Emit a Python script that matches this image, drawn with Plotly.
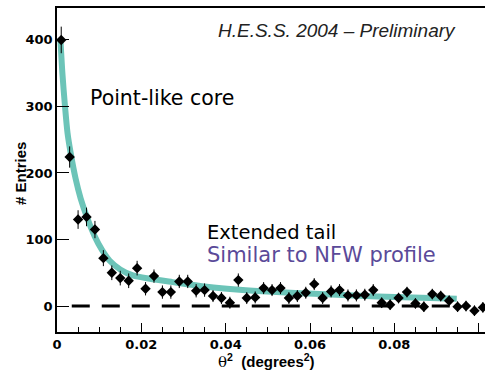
import plotly.graph_objects as go

# binned data: theta^2 bin centres and entries
theta2 = [0.001 + 0.002 * k for k in range(51)]
entries = [400, 224, 130, 134, 115, 72, 50, 42, 38, 57,
           26, 45, 21, 21, 37, 37, 23, 24, 15, 12,
           5, 39, 12, 13, 27, 24, 27, 12, 15, 20,
           33, 12, 22, 24, 16, 16, 17, 24, 5, 2,
           12, 21, 4, -1, 18, 15, 8, -1, 0, -7,
           -2]
errors = [20, 16, 14, 14, 13, 12, 11, 11, 11, 11,
          10, 10, 10, 10, 10, 10, 10, 10, 9, 9,
          9, 10, 9, 9, 9, 9, 9, 9, 9, 9,
          9, 9, 9, 9, 9, 9, 9, 9, 8, 8,
          8, 8, 8, 8, 8, 8, 8, 8, 8, 8,
          8]

# fitted profile
fit_x = [0.0008, 0.0013, 0.0019, 0.0025, 0.0033, 0.0044, 0.0056, 0.0072,
         0.009, 0.0107, 0.0125, 0.015, 0.018, 0.022, 0.0274, 0.0355,
         0.0433, 0.051, 0.061, 0.076, 0.0948]
fit_y = [402, 348, 300, 260, 228, 192, 162, 132,
         104, 84, 68, 55, 46, 41, 36, 29,
         24.5, 21.5, 18.5, 14.5, 11]

zero_x = [0.0035, 0.0945]
zero_y = [0, 0]

x_ticks = [0, 0.02, 0.04, 0.06, 0.08, 0.1]
x_labels = ["0", "0.02", "0.04", "0.06", "0.08", "0.1"]
y_ticks = [0, 100, 200, 300, 400]
y_labels = ["0", "100", "200", "300", "400"]

fig = go.Figure()
fig.add_trace(go.Scatter(x=zero_x, y=zero_y, mode="lines",
                         line=dict(color="black", width=3, dash="18px,12px"),
                         hoverinfo="skip", showlegend=False))
fig.add_trace(go.Scatter(x=fit_x, y=fit_y, mode="lines",
                         line=dict(color="rgb(108,196,184)", width=6, shape="spline",
                                   smoothing=0.8),
                         showlegend=False))
fig.add_trace(go.Scatter(x=theta2, y=entries, mode="markers",
                         marker=dict(symbol="diamond", size=8, color="black"),
                         error_y=dict(type="data", array=errors, color="black",
                                      thickness=1, width=0),
                         showlegend=False))

tickfont = dict(family="DejaVu Sans", size=13, color="black", weight="bold")
fig.update_layout(
    width=485, height=371,
    margin=dict(l=57, r=0, t=8, b=39),
    paper_bgcolor="white", plot_bgcolor="white",
    xaxis=dict(range=[0, 0.1015], showgrid=False, zeroline=False,
               showline=True, linecolor="black", linewidth=1.5, mirror=True,
               ticks="inside", ticklen=9, tickcolor="black",
               tickvals=x_ticks, ticktext=["<b>%s</b>" % t for t in x_labels],
               tickfont=tickfont,
               minor=dict(dtick=0.005, ticklen=5, ticks="inside", tickcolor="black")),
    yaxis=dict(range=[-39, 448], showgrid=False, zeroline=False,
               showline=True, linecolor="black", linewidth=1.5,
               ticks="inside", ticklen=12, tickcolor="black",
               tickvals=y_ticks, ticktext=["<b>%s</b>" % t for t in y_labels],
               tickfont=tickfont),
    annotations=[
        dict(text="<i>H.E.S.S. 2004 – Preliminary</i>", xref="paper", yref="paper",
             x=0.937, y=0.93, xanchor="right", yanchor="middle", showarrow=False,
             font=dict(family="Liberation Sans", size=19, color="#222")),
        dict(text="Point-like core", x=0.0074, y=313, xanchor="left", yanchor="middle",
             showarrow=False, font=dict(family="DejaVu Sans", size=20.5, color="black")),
        dict(text="Extended tail", x=0.0350, y=111, xanchor="left", yanchor="middle",
             showarrow=False, font=dict(family="DejaVu Sans", size=19.5, color="black")),
        dict(text="Similar to NFW profile", x=0.0350, y=77, xanchor="left", yanchor="middle",
             showarrow=False, font=dict(family="DejaVu Sans", size=21, color="#5a4a99")),
        dict(text="<b># Entries</b>", xref="paper", yref="paper", x=-0.087, y=0.49,
             xanchor="center", yanchor="middle", textangle=-90, showarrow=False,
             font=dict(family="Liberation Sans", size=15, color="black", weight="bold")),
        dict(text="<span style='font-family:DejaVu Serif;font-weight:normal'>θ</span><sup>2</sup>  <b>(degrees<sup>2</sup>)</b>",
             xref="paper", yref="paper",
             x=0.49, y=-0.09, xanchor="center", yanchor="middle", showarrow=False,
             font=dict(family="Liberation Sans", size=15, color="black", weight="bold")),
    ],
)
fig.write_html("out.html")
